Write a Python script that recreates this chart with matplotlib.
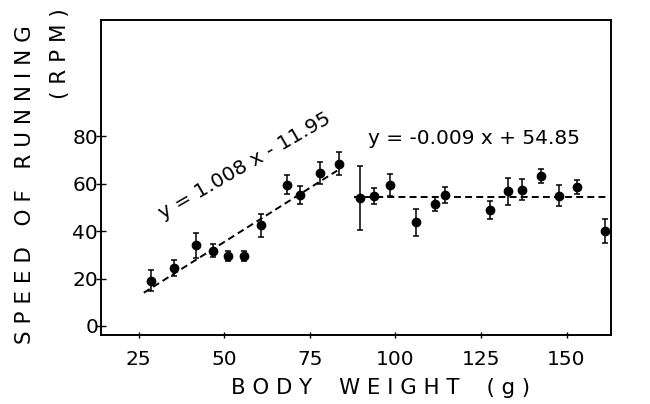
import matplotlib
matplotlib.use("Agg")
import matplotlib.pyplot as plt

plt.rcParams['font.family'] = ['DejaVu Sans']
plt.rcParams['lines.scale_dashes'] = False

# Data
weight_g = [28.6, 35.4, 41.9, 46.7, 51.1, 55.9, 60.7, 68.4, 72.0, 78.1, 83.4,
            89.6, 93.7, 98.4, 105.9, 111.5, 114.4, 127.6, 133.0, 137.1, 142.6,
            147.8, 153.2, 161.3]
speed_rpm = [19.1, 24.5, 34.0, 31.7, 29.5, 29.5, 42.4, 59.5, 55.3, 64.5, 68.5,
             53.9, 54.9, 59.4, 43.7, 51.4, 55.3, 48.8, 56.7, 57.5, 63.2,
             54.9, 58.5, 39.9]
err_rpm = [4.4, 3.5, 5.2, 2.7, 2.1, 2.0, 5.0, 4.0, 3.7, 4.7, 5.0,
           13.6, 3.4, 4.7, 5.7, 3.0, 3.5, 3.7, 5.6, 4.3, 3.0,
           4.4, 3.0, 5.0]

fit1_x = [26.5, 83.0]
fit1_y = [14.0, 65.5]
fit2_x = [88.0, 162.5]
fit2_y = [54.2, 54.2]

x_ticks = [25, 50, 75, 100, 125, 150]
y_ticks = [0, 20, 40, 60, 80]
eq1 = "y = 1.008 x - 11.95"
eq2 = "y = -0.009 x + 54.85"

W, H = 650, 404
fig = plt.figure(figsize=(6.5, 4.04), dpi=100)
ax = fig.add_axes([101 / W, 1 - 335 / H, (611 - 101) / W, (335 - 20) / H])

ax.errorbar(weight_g, speed_rpm, yerr=err_rpm, fmt='o', color='black',
            markersize=6.0, elinewidth=1.1, capsize=2.2, capthick=1.1)
ax.plot(fit1_x, fit1_y, color='black', linewidth=1.4, dashes=(5, 3))
ax.plot(fit2_x, fit2_y, color='black', linewidth=1.4, dashes=(5, 3))

ax.set_xlim(14, 163)
ax.set_ylim(-3.8, 129)
ax.set_xticks(x_ticks)
ax.set_yticks(y_ticks)
ax.tick_params(axis='y', direction='inout', length=7, width=1.0, pad=-1.4,
               labelsize=14.5)
ax.tick_params(axis='x', direction='inout', length=4.5, width=1.0, pad=8.5,
               labelsize=14.5)
for s in ax.spines.values():
    s.set_linewidth(1.4)

ax.text(245, H - 166, eq1, transform=None, fontsize=14.5, rotation=30,
        rotation_mode='anchor', ha='center', va='center')
ax.text(474, H - 138, eq2, transform=None, fontsize=14.5,
        ha='center', va='center')

fig.text(381 / W, 1 - 388 / H, "B O D Y    W E I G H T    ( g )",
         fontsize=15.3, ha='center', va='center')
fig.text(25 / W, 1 - 185 / H, "S P E E D   O F   R U N N I N G",
         fontsize=15.5, rotation=90, ha='center', va='center')
fig.text(60 / W, 1 - 54 / H, "( R P M )",
         fontsize=15.5, rotation=90, ha='center', va='center')

fig.savefig("out.png", dpi=100)
